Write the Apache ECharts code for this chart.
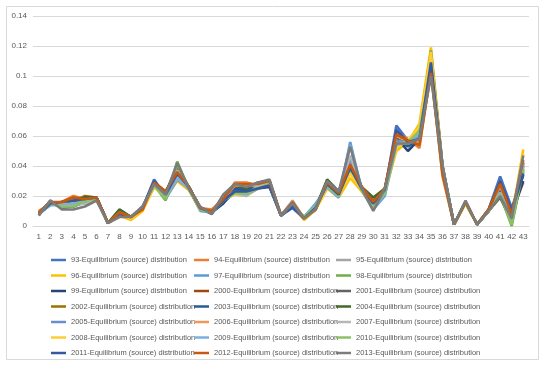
<!DOCTYPE html>
<html><head><meta charset="utf-8">
<script src="https://cdn.jsdelivr.net/npm/echarts@6/dist/echarts.min.js"></script>
<style>html,body{margin:0;padding:0;background:#fff}#c{width:550px;height:369px}</style>
</head><body><div id="c"></div>
<script>
const categories = ['1','2','3','4','5','6','7','8','9','10','11','12','13','14','15','16','17','18','19','20','21','22','23','24','25','26','27','28','29','30','31','32','33','34','35','36','37','38','39','40','41','42','43'];
const seriesNames = ['93','94','95','96','97','98','99','2000','2001','2002','2003','2004','2005','2006','2007','2008','2009','2010','2011','2012','2013'];
const colors = ['#4472C4','#ED7D31','#A5A5A5','#FFC000','#5B9BD5','#70AD47','#264478','#9E480E','#636363','#997300','#255E91','#43682B','#698ED0','#F1975A','#B7B7B7','#FFCD33','#7CAFDD','#8CC168','#335AA1','#C55A11','#7C7C7C'];
const s93 = [0.008,0.014,0.015,0.016,0.017,0.019,0.002,0.007,0.006,0.012,0.031,0.020,0.034,0.026,0.011,0.009,0.016,0.022,0.022,0.025,0.027,0.007,0.012,0.005,0.013,0.027,0.020,0.038,0.025,0.014,0.023,0.067,0.057,0.058,0.110,0.040,0.001,0.016,0.001,0.011,0.033,0.012,0.034];
const s94 = [0.010,0.015,0.016,0.020,0.018,0.019,0.002,0.009,0.006,0.011,0.029,0.023,0.035,0.026,0.012,0.011,0.018,0.029,0.029,0.027,0.029,0.007,0.016,0.005,0.011,0.028,0.022,0.040,0.026,0.017,0.025,0.063,0.058,0.052,0.105,0.033,0.001,0.016,0.001,0.011,0.030,0.009,0.029];
const s95 = [0.008,0.016,0.013,0.014,0.015,0.018,0.002,0.008,0.006,0.012,0.027,0.021,0.036,0.025,0.012,0.009,0.019,0.023,0.022,0.027,0.029,0.007,0.017,0.005,0.012,0.027,0.021,0.041,0.025,0.014,0.024,0.056,0.055,0.058,0.107,0.038,0.001,0.016,0.001,0.010,0.024,0.006,0.041];
const s96 = [0.009,0.015,0.015,0.015,0.016,0.018,0.002,0.007,0.004,0.010,0.026,0.019,0.030,0.024,0.011,0.010,0.018,0.021,0.020,0.025,0.028,0.007,0.014,0.004,0.011,0.025,0.019,0.032,0.023,0.012,0.022,0.050,0.056,0.068,0.119,0.040,0.001,0.015,0.001,0.010,0.022,0.005,0.051];
const s97 = [0.008,0.014,0.014,0.015,0.016,0.019,0.002,0.007,0.006,0.013,0.027,0.018,0.031,0.025,0.010,0.009,0.017,0.022,0.021,0.025,0.028,0.007,0.014,0.006,0.015,0.026,0.019,0.056,0.024,0.011,0.020,0.054,0.056,0.060,0.110,0.038,0.001,0.016,0.001,0.010,0.022,0.007,0.038];
const s98 = [0.008,0.015,0.013,0.013,0.017,0.018,0.002,0.008,0.006,0.013,0.027,0.017,0.043,0.025,0.011,0.009,0.017,0.022,0.022,0.025,0.028,0.007,0.014,0.006,0.013,0.028,0.020,0.038,0.024,0.013,0.022,0.055,0.056,0.064,0.117,0.040,0.001,0.016,0.001,0.010,0.021,0.000,0.037];
const s99 = [0.008,0.015,0.016,0.017,0.019,0.019,0.002,0.008,0.006,0.012,0.029,0.022,0.036,0.026,0.012,0.009,0.015,0.024,0.023,0.025,0.026,0.007,0.013,0.005,0.012,0.029,0.022,0.040,0.025,0.015,0.024,0.059,0.050,0.058,0.114,0.040,0.001,0.016,0.001,0.010,0.022,0.008,0.030];
const s2000 = [0.009,0.016,0.015,0.018,0.019,0.019,0.002,0.009,0.006,0.011,0.029,0.023,0.037,0.026,0.012,0.009,0.018,0.026,0.026,0.028,0.030,0.007,0.015,0.005,0.011,0.029,0.022,0.041,0.026,0.016,0.025,0.058,0.055,0.056,0.108,0.037,0.001,0.016,0.001,0.010,0.025,0.006,0.042];
const s2001 = [0.007,0.017,0.012,0.013,0.016,0.018,0.002,0.011,0.006,0.012,0.028,0.022,0.039,0.026,0.012,0.008,0.020,0.027,0.025,0.028,0.030,0.007,0.015,0.005,0.011,0.030,0.022,0.043,0.025,0.013,0.024,0.056,0.055,0.057,0.106,0.039,0.001,0.016,0.001,0.010,0.021,0.004,0.042];
const s2002 = [0.008,0.016,0.014,0.016,0.020,0.019,0.002,0.010,0.006,0.011,0.028,0.022,0.038,0.026,0.012,0.009,0.019,0.025,0.024,0.027,0.029,0.007,0.015,0.005,0.012,0.029,0.022,0.040,0.025,0.016,0.024,0.056,0.054,0.057,0.110,0.039,0.001,0.016,0.001,0.010,0.020,0.005,0.040];
const s2003 = [0.008,0.016,0.015,0.017,0.019,0.019,0.002,0.009,0.006,0.012,0.029,0.021,0.036,0.026,0.012,0.009,0.017,0.025,0.024,0.026,0.027,0.007,0.014,0.005,0.012,0.028,0.021,0.041,0.025,0.016,0.024,0.058,0.053,0.058,0.112,0.040,0.001,0.016,0.001,0.010,0.023,0.007,0.034];
const s2004 = [0.008,0.016,0.013,0.014,0.019,0.019,0.002,0.011,0.006,0.012,0.029,0.022,0.040,0.026,0.012,0.009,0.020,0.027,0.025,0.029,0.030,0.007,0.015,0.005,0.012,0.031,0.023,0.045,0.026,0.019,0.025,0.056,0.055,0.057,0.111,0.039,0.001,0.016,0.001,0.010,0.019,0.003,0.036];
const s2005 = [0.008,0.015,0.014,0.015,0.016,0.018,0.002,0.008,0.006,0.012,0.028,0.020,0.034,0.025,0.011,0.009,0.018,0.023,0.022,0.026,0.028,0.007,0.014,0.005,0.013,0.027,0.020,0.044,0.025,0.013,0.023,0.057,0.056,0.059,0.106,0.038,0.001,0.016,0.001,0.010,0.026,0.008,0.039];
const s2006 = [0.009,0.015,0.015,0.018,0.017,0.018,0.002,0.009,0.006,0.012,0.028,0.022,0.036,0.026,0.012,0.010,0.018,0.027,0.027,0.027,0.029,0.007,0.016,0.005,0.012,0.028,0.021,0.041,0.026,0.015,0.024,0.060,0.057,0.056,0.104,0.036,0.001,0.016,0.001,0.011,0.027,0.008,0.037];
const s2007 = [0.008,0.016,0.013,0.014,0.015,0.018,0.002,0.008,0.006,0.012,0.027,0.021,0.037,0.025,0.012,0.009,0.019,0.021,0.020,0.027,0.029,0.007,0.016,0.005,0.012,0.027,0.021,0.047,0.025,0.013,0.024,0.055,0.055,0.058,0.105,0.038,0.001,0.016,0.001,0.010,0.022,0.005,0.043];
const s2008 = [0.009,0.015,0.014,0.015,0.016,0.018,0.002,0.007,0.005,0.011,0.026,0.019,0.032,0.025,0.011,0.010,0.018,0.021,0.021,0.025,0.028,0.007,0.014,0.004,0.011,0.026,0.020,0.035,0.024,0.012,0.022,0.052,0.057,0.066,0.116,0.040,0.001,0.015,0.001,0.010,0.022,0.005,0.048];
const s2009 = [0.008,0.014,0.014,0.015,0.016,0.019,0.002,0.007,0.006,0.013,0.027,0.019,0.032,0.025,0.011,0.009,0.017,0.022,0.021,0.025,0.028,0.007,0.014,0.006,0.014,0.026,0.019,0.054,0.024,0.012,0.021,0.054,0.056,0.061,0.104,0.038,0.001,0.016,0.001,0.010,0.022,0.007,0.040];
const s2010 = [0.008,0.015,0.013,0.013,0.017,0.018,0.002,0.008,0.006,0.013,0.027,0.018,0.041,0.025,0.011,0.009,0.017,0.022,0.022,0.025,0.028,0.007,0.014,0.006,0.013,0.027,0.020,0.039,0.024,0.013,0.022,0.055,0.056,0.063,0.103,0.039,0.001,0.016,0.001,0.010,0.021,0.001,0.038];
const s2011 = [0.008,0.015,0.016,0.017,0.018,0.019,0.002,0.008,0.006,0.012,0.030,0.021,0.035,0.026,0.012,0.009,0.017,0.023,0.023,0.025,0.027,0.007,0.013,0.005,0.012,0.028,0.021,0.039,0.025,0.015,0.024,0.064,0.056,0.058,0.109,0.039,0.001,0.016,0.001,0.011,0.030,0.010,0.035];
const s2012 = [0.009,0.016,0.016,0.019,0.018,0.019,0.002,0.009,0.006,0.011,0.029,0.023,0.036,0.026,0.012,0.010,0.018,0.028,0.028,0.028,0.030,0.007,0.016,0.005,0.011,0.029,0.022,0.041,0.026,0.016,0.025,0.061,0.057,0.054,0.102,0.035,0.001,0.016,0.001,0.011,0.028,0.008,0.044];
const s2013 = [0.007,0.017,0.011,0.011,0.013,0.017,0.002,0.006,0.006,0.013,0.028,0.021,0.042,0.025,0.013,0.008,0.021,0.028,0.026,0.029,0.031,0.007,0.015,0.005,0.011,0.030,0.023,0.053,0.025,0.010,0.025,0.055,0.055,0.058,0.100,0.040,0.001,0.017,0.001,0.010,0.020,0.005,0.047];
const yTicks = [0,0.02,0.04,0.06,0.08,0.1,0.12,0.14];

const allData = [s93,s94,s95,s96,s97,s98,s99,s2000,s2001,s2002,s2003,s2004,s2005,s2006,s2007,s2008,s2009,s2010,s2011,s2012,s2013];
const suffix = '-Equilibrium (source) distribution';
const fullNames = seriesNames.map(n => n + suffix);

const chart = echarts.init(document.getElementById('c'), null, {renderer:'canvas'});
const legendText = {color:'#595959', fontSize:7.5, fontFamily:'Liberation Sans', lineHeight:10};
function col(i){ return fullNames.filter((_,k)=>k%3===i); }
const lefts = [46,189,331];
chart.setOption({
  animation:false,
  color: colors,
  graphic:[{type:'rect', shape:{x:6.5,y:6.5,width:532,height:353}, style:{fill:'none', stroke:'#d9d9d9', lineWidth:1}, silent:true}],
  grid:{left:33, right:21, top:16, bottom:143, containLabel:false},
  legend:[0,1,2].map(i=>({orient:'vertical', left:lefts[i], top:250, itemWidth:15, itemHeight:2.5, itemGap:5.5, icon:'rect', data:col(i), textStyle:legendText, selectedMode:false})),
  xAxis:{type:'category', data:categories, boundaryGap:true,
    axisLine:{show:true, lineStyle:{color:'#d9d9d9', width:1}}, axisTick:{show:false},
    axisLabel:{color:'#595959', fontSize:8, fontFamily:'Liberation Sans', margin:7, interval:0}},
  yAxis:{type:'value', min:yTicks[0], max:yTicks[yTicks.length-1], interval:0.02,
    axisLine:{show:false}, axisTick:{show:false},
    splitLine:{lineStyle:{color:'#d9d9d9', width:1}},
    axisLabel:{color:'#595959', fontSize:8, fontFamily:'Liberation Sans', margin:6}},
  series: allData.map((d,i)=>({name:fullNames[i], type:'line', data:d, symbol:'none', smooth:false,
    lineStyle:{width:2.6, color:colors[i]}, itemStyle:{color:colors[i]}}))
});
</script></body></html>
